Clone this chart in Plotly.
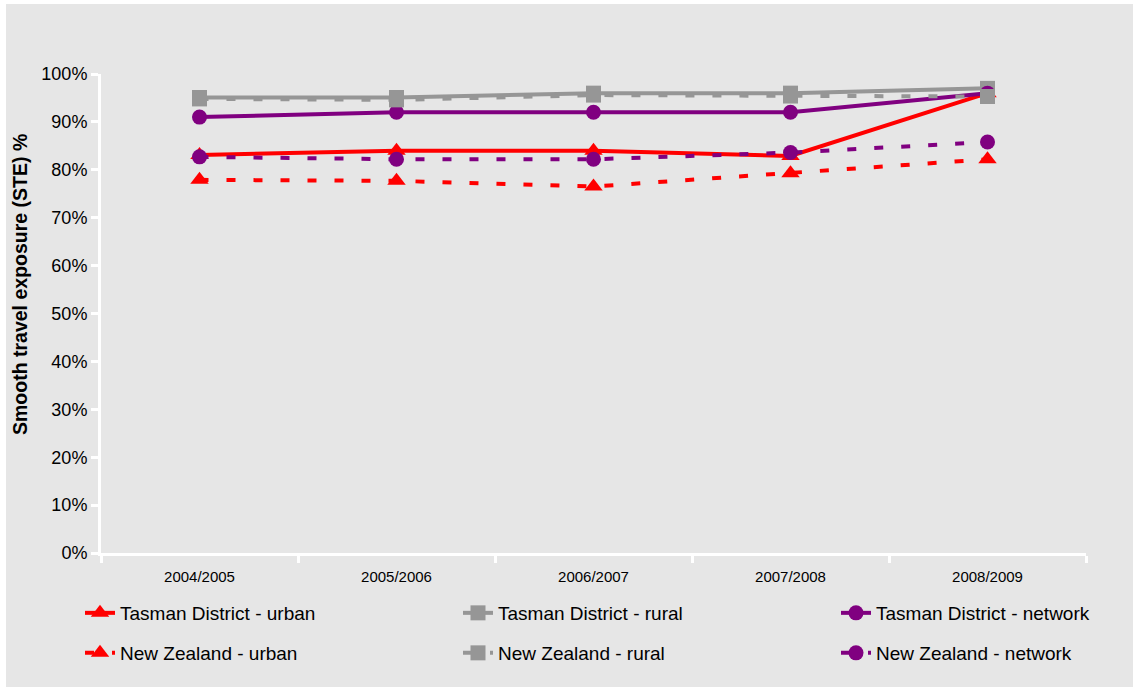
import plotly.graph_objects as go

# Financial years on the category axis
years = ["2004/2005", "2005/2006", "2006/2007", "2007/2008", "2008/2009"]

# Smooth travel exposure, percent
tasman_urban = [83.1, 84.0, 84.0, 82.9, 96.0]
tasman_rural = [95.1, 95.1, 96.0, 96.0, 97.0]
tasman_network = [91.0, 92.0, 92.0, 92.0, 96.0]
nz_urban = [77.9, 77.7, 76.5, 79.3, 82.2]
nz_rural = [94.8, 94.6, 95.6, 95.4, 95.3]
nz_network = [82.7, 82.2, 82.2, 83.6, 85.8]

y_ticks = [0, 10, 20, 30, 40, 50, 60, 70, 80, 90, 100]
y_tick_labels = ["0%", "10%", "20%", "30%", "40%", "50%", "60%", "70%", "80%", "90%", "100%"]
y_title = "Smooth travel exposure (STE) %"

RED = "#FF0000"
GREY = "#969696"
PURPLE = "#800080"
BG = "#E6E6E6"

W, H = 1133, 687
ML, MR, MT, MB = 101, 47, 74, 134
PW = W - ML - MR
PH = H - MT - MB

DASH = "9px,18px"
# name, values, colour, dash, marker, legend slot (column left px, row centre px)
series = [
    ("Tasman District - urban", tasman_urban, RED, "solid", "triangle-up", (80, 613)),
    ("Tasman District - rural", tasman_rural, GREY, "solid", "square", (458, 613)),
    ("Tasman District - network", tasman_network, PURPLE, "solid", "circle", (836, 613)),
    ("New Zealand - urban", nz_urban, RED, DASH, "triangle-up", (80, 653)),
    ("New Zealand - rural", nz_rural, GREY, DASH, "square", (458, 653)),
    ("New Zealand - network", nz_network, PURPLE, DASH, "circle", (836, 653)),
]

fig = go.Figure()
legends = {}
for i, (name, vals, color, dash, symbol, (lx, ly)) in enumerate(series):
    key = "legend" if i == 0 else f"legend{i + 1}"
    fig.add_trace(go.Scatter(
        x=years, y=vals, name=name, mode="lines+markers",
        line=dict(color=color, width=4, dash=dash),
        marker=dict(symbol=symbol, size=15 if symbol != "triangle-up" else 16, color=color),
        legend=key,
    ))
    legends[key] = dict(
        xref="container", yref="container",
        x=lx / W, y=1 - ly / H, xanchor="left", yanchor="middle",
        orientation="h", bgcolor="rgba(0,0,0,0)",
        font=dict(family="Liberation Sans, Arial, sans-serif", size=19, color="#000000"),
        itemclick=False, itemdoubleclick=False,
    )

def px_x(p):
    return (p - ML) / PW

def px_y(p):
    return (H - MB - p) / PH

fig.update_layout(
    width=W, height=H,
    margin=dict(l=ML, r=MR, t=MT, b=MB, pad=0, autoexpand=False),
    paper_bgcolor="white",
    plot_bgcolor=BG,
    font=dict(family="Liberation Sans, Arial, sans-serif", color="#000000"),
    showlegend=True,
    shapes=[dict(
        type="rect", xref="paper", yref="paper", layer="below",
        x0=px_x(6), x1=px_x(W + 2), y0=px_y(H + 2), y1=px_y(4),
        fillcolor=BG, line=dict(width=0),
    )],
    annotations=[dict(
        text=f"<b>{y_title}</b>", textangle=-90, showarrow=False,
        xref="paper", yref="paper", x=px_x(20), y=px_y(285),
        xanchor="center", yanchor="middle",
        font=dict(size=19.5, color="#000000"),
    )],
    xaxis=dict(
        type="category", range=[-0.5, 4.5],
        showline=True, linecolor="white", linewidth=3,
        ticks="outside", tickcolor="white", ticklen=7, tickwidth=3,
        tickson="boundaries", showgrid=False, zeroline=False,
        tickfont=dict(size=15), ticklabelstandoff=8,
    ),
    yaxis=dict(
        range=[0, 100], tickmode="array", tickvals=y_ticks, ticktext=y_tick_labels,
        showline=True, linecolor="white", linewidth=3,
        ticks="outside", tickcolor="white", ticklen=7, tickwidth=3,
        showgrid=False, zeroline=False,
        tickfont=dict(size=18),
    ),
    **legends,
)

fig.write_html("out.html")
